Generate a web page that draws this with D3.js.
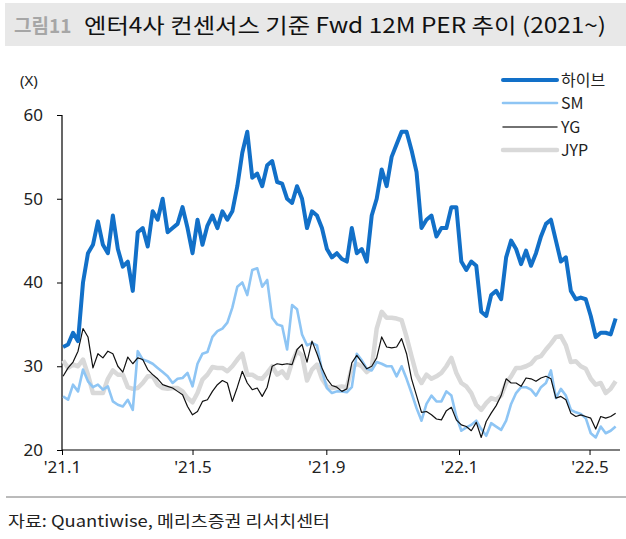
<!DOCTYPE html>
<html>
<head>
<meta charset="utf-8">
<script src="https://cdn.jsdelivr.net/npm/d3@7/dist/d3.min.js"></script>
<style>
  html, body { margin: 0; padding: 0; background: #ffffff; }
  svg { display: block; }
  text { font-family: "Noto Sans CJK KR", "Noto Sans", sans-serif; }
</style>
</head>
<body>
<div id="chart"></div>
<script>
// ---------------- DATA ----------------
const seriesNames = ["하이브", "SM", "YG", "JYP"];
const dataStart = "2021-01-02";
const dataEnd = "2022-05-25";

const hybe = [32.3,32.6,34.0,33.0,40.0,43.5,44.5,47.3,44.5,43.5,48.0,44.0,41.9,42.5,39.0,46.0,46.5,44.3,48.5,47.5,
  50.0,46.0,46.5,47.0,49.0,46.5,43.5,47.5,44.5,46.8,48.0,46.5,48.5,47.5,48.5,51.5,55.5,58.0,52.5,53.0,
  51.5,54.0,54.5,52.0,51.8,50.0,49.5,51.5,50.0,46.5,48.5,48.0,46.5,44.0,43.0,43.5,42.8,42.5,46.5,43.5,
  44.0,42.5,48.0,50.0,53.5,51.5,55.0,56.5,58.0,58.0,55.8,53.2,46.5,47.5,48.0,45.5,46.5,46.5,49.0,49.0,
  42.5,41.5,42.5,42.0,36.5,36.0,38.5,39.0,38.0,43.0,45.0,44.0,42.2,43.8,42.0,43.5,45.5,47.0,47.5,45.0,
  42.5,43.0,39.0,38.0,38.2,38.0,36.0,33.5,34.0,34.0,33.8,35.7];

const sm = [26.4,26.0,27.8,27.0,29.6,28.2,27.5,27.8,27.2,27.6,25.8,25.4,25.2,26.0,24.8,31.8,30.8,30.6,30.3,29.8,
  29.3,28.8,28.0,28.5,28.6,29.2,27.6,30.3,31.5,31.7,33.5,34.2,34.5,35.2,37.0,39.5,40.0,38.5,41.5,41.7,
  39.5,40.3,35.8,35.0,34.8,32.0,37.3,36.8,33.8,32.5,32.8,32.5,29.5,27.4,26.8,27.0,27.0,26.9,27.5,31.5,
  30.7,29.7,29.5,30.5,30.3,30.0,30.0,28.8,30.0,28.5,26.8,25.0,23.5,25.5,26.5,25.8,25.8,27.0,26.5,24.0,
  22.3,22.7,23.0,23.5,22.5,21.7,23.2,22.8,22.4,23.5,25.5,26.8,27.5,27.5,27.2,26.5,27.5,28.0,29.5,26.2,
  27.3,26.5,24.8,24.5,24.3,23.8,22.0,21.5,22.8,22.0,22.3,22.8];

const yg = [28.8,29.8,30.5,31.8,34.5,33.5,29.8,31.5,31.0,31.8,31.5,30.0,29.3,31.1,30.3,31.0,30.8,29.6,29.0,28.5,
  27.8,27.6,27.4,27.0,26.6,25.2,24.2,24.6,25.8,26.0,27.0,27.8,28.3,28.0,25.8,27.5,29.4,28.0,27.2,27.4,
  26.4,27.5,30.0,30.3,30.2,30.3,30.2,32.0,32.6,30.5,33.0,31.5,29.8,28.5,27.7,27.5,27.0,27.3,30.4,31.3,
  30.5,29.7,30.0,31.0,33.5,32.3,32.2,32.3,33.3,31.5,28.5,26.5,24.5,24.6,24.2,23.7,23.6,24.7,25.1,23.6,
  23.0,22.8,22.3,23.3,21.5,23.4,24.4,25.3,26.5,28.5,28.0,28.0,27.6,28.6,28.5,28.2,28.6,28.8,28.5,26.2,
  26.4,26.0,24.4,24.0,24.2,24.0,23.8,22.5,24.0,23.8,24.0,24.4];

const jyp = [30.7,29.8,30.2,30.0,30.8,29.0,26.8,26.8,26.8,28.5,29.5,29.0,29.0,27.5,27.3,27.4,28.0,28.8,28.8,27.8,
  27.4,27.3,27.4,27.4,27.0,26.2,25.7,26.8,28.4,29.0,29.9,29.8,29.8,29.4,30.0,30.8,31.5,29.0,29.0,28.6,
  28.5,29.2,30.0,29.0,29.4,28.6,30.5,31.8,31.3,28.3,29.6,30.2,28.5,27.6,27.4,27.5,27.6,27.5,29.8,30.3,
  30.0,29.3,29.8,34.5,36.5,35.8,35.8,35.7,35.5,33.5,31.2,29.0,28.0,29.0,28.5,28.8,29.2,30.0,31.0,29.2,
  28.0,27.6,26.8,25.4,24.8,25.6,26.2,26.0,26.5,28.0,28.8,29.8,29.8,30.0,30.3,31.0,31.2,32.0,32.7,33.5,
  33.6,32.5,30.5,30.6,30.0,29.7,28.5,27.8,28.0,26.8,27.3,28.2];

const yTicks = [20, 30, 40, 50, 60];
const xTickDates = ["2021-01-01", "2021-05-01", "2021-09-01", "2022-01-01", "2022-05-01"];
const xTickLabels = ["'21.1", "'21.5", "'21.9", "'22.1", "'22.5"];

// ---------------- LAYOUT ----------------
const W = 626, H = 539;
const svg = d3.select("#chart").append("svg").attr("width", W).attr("height", H);

const parse = d3.utcParse("%Y-%m-%d");
const t0 = parse(dataStart).getTime(), t1 = parse(dataEnd).getTime();
const dates = hybe.map((_, i) => new Date(t0 + (t1 - t0) * i / (hybe.length - 1)));

const x = d3.scaleUtc()
  .domain([parse("2021-01-01"), parse("2022-05-29")])
  .range([62, 620]);
const y = d3.scaleLinear().domain([20, 60]).range([450, 115]);

// Title bar
svg.append("rect").attr("x", 5).attr("y", 3).attr("width", W - 5).attr("height", 43).attr("fill", "#e8e8e8");
svg.append("text").attr("x", 14).attr("y", 33).attr("font-size", 19).attr("font-weight", 700)
  .attr("fill", "#a6a6a6").text("그림11");
svg.append("text").attr("x", 84).attr("y", 33).attr("font-size", 21).attr("fill", "#111")
  .attr("textLength", 522).attr("lengthAdjust", "spacingAndGlyphs")
  .text("엔터4사 컨센서스 기준 Fwd 12M PER 추이 (2021~)");

// Unit label
svg.append("text").attr("x", 20).attr("y", 86).attr("font-size", 15).attr("fill", "#222")
  .style("font-family", "'Noto Sans', sans-serif").text("(X)");

// Axes
const yAxis = d3.axisLeft(y).tickValues(yTicks).tickSize(5).tickPadding(14).tickFormat(d3.format("d"));
const gy = svg.append("g").attr("transform", "translate(62,0)").call(yAxis);
gy.select(".domain").attr("stroke", "#000").attr("stroke-width", 1.2).attr("d", "M0,115V450");
gy.selectAll(".tick line").attr("stroke", "#000");
gy.selectAll(".tick text").attr("font-size", 17).attr("fill", "#222")
  .style("font-family", "'Noto Sans', sans-serif");

const xAxis = d3.axisBottom(x).tickValues(xTickDates.map(parse)).tickSize(5).tickPadding(6)
  .tickFormat((d, i) => xTickLabels[i]);
const gx = svg.append("g").attr("transform", "translate(0,450)").call(xAxis);
gx.select(".domain").attr("stroke", "#000").attr("stroke-width", 1.2).attr("d", "M62,0H620");
gx.selectAll(".tick line").attr("stroke", "#000");
gx.selectAll(".tick text").attr("font-size", 17).attr("fill", "#222")
  .style("font-family", "'Noto Sans', sans-serif");

// Lines
const styles = {
  "하이브": { color: "#1270c8", width: 4 },
  "SM": { color: "#8ec5f4", width: 2.6 },
  "YG": { color: "#111111", width: 1.2 },
  "JYP": { color: "#d9d9d9", width: 4.5 }
};
const seriesData = { "하이브": hybe, "SM": sm, "YG": yg, "JYP": jyp };
const line = d3.line().x((d, i) => x(dates[i])).y(d => y(d)).curve(d3.curveLinear);

["JYP", "SM", "YG", "하이브"].forEach(name => {
  svg.append("path").datum(seriesData[name])
    .attr("fill", "none").attr("stroke", styles[name].color)
    .attr("stroke-width", styles[name].width).attr("stroke-linejoin", "round")
    .attr("d", line);
});

// Legend
const legendY = [80, 103, 127, 150];
seriesNames.forEach((name, i) => {
  const g = svg.append("g").attr("transform", `translate(503,${legendY[i]})`);
  g.append("line").attr("x1", 0).attr("x2", 54).attr("y1", 0).attr("y2", 0)
    .attr("stroke", name === "YG" ? "#444" : styles[name].color)
    .attr("stroke-width", name === "YG" ? 1.5 : styles[name].width)
    .attr("stroke-linecap", "round");
  g.append("text").attr("x", 58).attr("y", 6).attr("font-size", 16).attr("fill", "#222").text(name);
});

// Source divider + text
svg.append("line").attr("x1", 6).attr("x2", W).attr("y1", 497).attr("y2", 497)
  .attr("stroke", "#777").attr("stroke-width", 1);
svg.append("text").attr("x", 8).attr("y", 527).attr("font-size", 16).attr("fill", "#222")
  .attr("textLength", 322).attr("lengthAdjust", "spacingAndGlyphs")
  .text("자료: Quantiwise, 메리츠증권 리서치센터");
</script>
</body>
</html>
